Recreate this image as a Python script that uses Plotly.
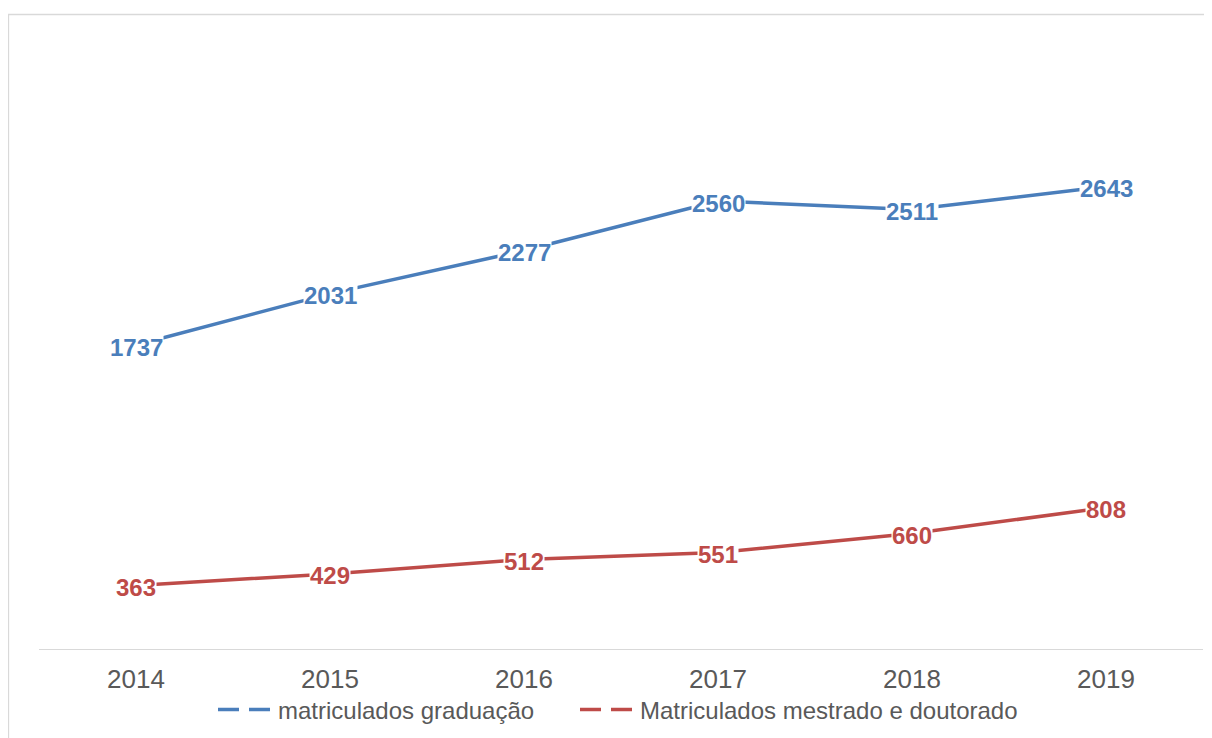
import plotly.graph_objects as go

years = ["2014", "2015", "2016", "2017", "2018", "2019"]
graduacao = [1737, 2031, 2277, 2560, 2511, 2643]
pos_grad = [363, 429, 512, 551, 660, 808]
names = ["matriculados graduação", "Matriculados mestrado e doutorado"]
colors = ["#4A7EBB", "#BE4B48"]

W, H = 1212, 738
L, R, T, B = 31, 17, 116, 97
pw, ph = W - L - R, H - T - B

fig = go.Figure()
for vals, c in [(graduacao, colors[0]), (pos_grad, colors[1])]:
    fig.add_trace(go.Scatter(
        x=years, y=vals, mode="lines",
        line=dict(color=c, width=3.5), showlegend=False, hoverinfo="skip",
    ))
for vals, c in [(graduacao, colors[0]), (pos_grad, colors[1])]:
    for i, yv in enumerate(vals):
        fig.add_annotation(x=i, y=yv, xref="x", yref="y", text=str(yv), showarrow=False,
                           xanchor="center", yanchor="middle", yshift=-2,
                           bgcolor="white", borderpad=0,
                           font=dict(family="Liberation Sans, Arial", size=24, color=c, weight="bold"))
for name, c, lg in zip(names, colors, ["legend", "legend2"]):
    fig.add_trace(go.Scatter(
        x=[None], y=[None], mode="lines", name=name, legend=lg,
        line=dict(color=c, width=3.5, dash="21px,10px"),
    ))

fig.add_shape(type="rect", xref="paper", yref="paper",
              x0=(0.5 - L) / pw, x1=(W + 10 - L) / pw,
              y0=-(H + 10 - (H - B)) / ph, y1=1 + (T - 6.5) / ph,
              line=dict(color="#D9D9D9", width=1.3), fillcolor="rgba(0,0,0,0)", layer="below")

leg_common = dict(orientation="h", xanchor="left", y=-61 / ph, yanchor="middle",
                  font=dict(size=24, color="#595959"), itemwidth=55,
                  bgcolor="rgba(0,0,0,0)")

fig.update_layout(
    width=W, height=H,
    margin=dict(l=L, r=R, t=T, b=B, autoexpand=False),
    paper_bgcolor="white", plot_bgcolor="white",
    font=dict(family="Liberation Sans, Arial", color="#595959"),
    xaxis=dict(type="category", range=[-0.5, 5.5], showgrid=False, zeroline=False,
               showline=True, linecolor="#D9D9D9", linewidth=1.3,
               ticks="outside", ticklen=7, tickcolor="rgba(0,0,0,0)",
               tickfont=dict(size=26, color="#595959")),
    yaxis=dict(range=[0, 3000], visible=False, showgrid=False, zeroline=False),
    legend=dict(x=(205 - L) / pw, **leg_common),
    legend2=dict(x=(567 - L) / pw, **leg_common),
)

fig.write_html("out.html")
